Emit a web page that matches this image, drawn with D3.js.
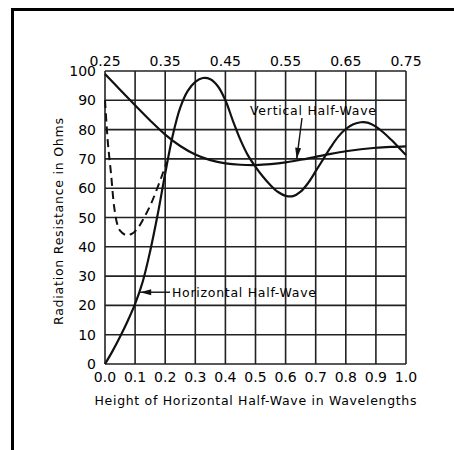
<!DOCTYPE html>
<html><head><meta charset="utf-8">
<script src="https://cdn.jsdelivr.net/npm/d3@7"></script>
<style>html,body{margin:0;padding:0;background:#fff;}svg{display:block;}</style>
</head><body>
<script>
const xTicks = [0.0,0.1,0.2,0.3,0.4,0.5,0.6,0.7,0.8,0.9,1.0];
const topTickPos = [0.0,0.2,0.4,0.6,0.8,1.0];
const topTickLabels = ["0.25","0.35","0.45","0.55","0.65","0.75"];
const yTicks = [0,10,20,30,40,50,60,70,80,90,100];

const horizX = [0,0.025,0.05,0.075,0.1,0.125,0.15,0.175,0.2,0.225,0.25,0.275,0.3,0.325,0.35,0.375,0.4,0.425,0.45,0.475,0.5,0.525,0.55,0.575,0.6,0.625,0.65,0.675,0.7,0.725,0.75,0.775,0.8,0.825,0.85,0.875,0.9,0.925,0.95,0.975,1.0];
const horizR = [0,4.4,9.3,14.6,20.5,28,38.5,51,65,78,87.5,93.2,96.3,97.6,97.2,94.8,90,83,76.5,71.2,67.3,63.9,61,58.7,57.4,57.3,58.8,61.8,65.8,69.9,74,77.6,80.2,81.8,82.5,82.3,81,79,76.6,74,71.3];

const vertX = [0,0.05,0.1,0.15,0.2,0.25,0.3,0.35,0.4,0.45,0.5,0.55,0.6,0.65,0.7,0.75,0.8,0.85,0.9,0.95,1.0];
const vertR = [99,93.6,88.3,83.1,78.3,74.4,71.5,69.6,68.5,68,67.9,68.2,68.8,69.7,70.7,71.7,72.6,73.3,73.8,74.1,74.3];

const dashX = [0,0.005,0.01,0.02,0.03,0.04,0.05,0.07,0.09,0.11,0.13,0.15,0.17,0.19,0.205];
const dashR = [90,82,75,65,54,48,45.5,44,44.5,46.5,50,54,59,64.5,69];

(function(){
const W = 454, H = 450;
const pL = 105, pR = 406, pT = 71, pB = 364;
const svg = d3.select("body").append("svg").attr("width", W).attr("height", H);
const font = "DejaVu Sans, sans-serif";

// outer frame
svg.append("path").attr("d", `M12.5,${H} L12.5,9.5 L${W},9.5`).attr("fill","none").attr("stroke","#000").attr("stroke-width",3);

const x = d3.scaleLinear().domain([0,1]).range([pL,pR]);
const y = d3.scaleLinear().domain([0,100]).range([pB,pT]);

// grid
const g = svg.append("g");
g.selectAll(".vg").data(xTicks).join("line")
  .attr("x1", d=>x(d)).attr("x2", d=>x(d)).attr("y1", pT).attr("y2", pB)
  .attr("stroke","#222").attr("stroke-width",1.6);
g.selectAll(".hg").data(yTicks).join("line")
  .attr("x1", pL).attr("x2", pR).attr("y1", d=>y(d)).attr("y2", d=>y(d))
  .attr("stroke","#222").attr("stroke-width",1.6);

// bottom tick labels
svg.selectAll(".bl").data(xTicks).join("text")
  .attr("x", d=>x(d)).attr("y", pB+18)
  .attr("text-anchor","middle").attr("font-family",font).attr("font-size",14)
  .text(d=>d3.format(".1f")(d));
// top tick labels
svg.selectAll(".tl").data(topTickPos).join("text")
  .attr("x", d=>x(d)).attr("y", pT-5)
  .attr("text-anchor","middle").attr("font-family",font).attr("font-size",14)
  .text((d,i)=>topTickLabels[i]);
// left tick labels
svg.selectAll(".ll").data(yTicks).join("text")
  .attr("x", pL-9).attr("y", d=>y(d)+5)
  .attr("text-anchor","end").attr("font-family",font).attr("font-size",14)
  .text(d=>d);

// axis titles
svg.append("text").attr("x", 255.5).attr("y", 404.5)
  .attr("text-anchor","middle").attr("font-family",font).attr("font-size",12.5)
  .attr("textLength",322).attr("lengthAdjust","spacing")
  .text("Height of Horizontal Half-Wave in Wavelengths");
svg.append("text").attr("transform","translate(63,221.5) rotate(-90)")
  .attr("text-anchor","middle").attr("font-family",font).attr("font-size",12.5)
  .attr("textLength",207).attr("lengthAdjust","spacing")
  .text("Radiation Resistance in Ohms");

// curves
const line = d3.line().x(d=>x(d[0])).y(d=>y(d[1])).curve(d3.curveCatmullRom.alpha(0.5));
svg.append("path").datum(horizX.map((v,i)=>[v,horizR[i]])).attr("d",line)
  .attr("fill","none").attr("stroke","#111").attr("stroke-width",2.2);
svg.append("path").datum(vertX.map((v,i)=>[v,vertR[i]])).attr("d",line)
  .attr("fill","none").attr("stroke","#111").attr("stroke-width",2.2);
svg.append("path").datum(dashX.map((v,i)=>[v,dashR[i]])).attr("d",line)
  .attr("fill","none").attr("stroke","#111").attr("stroke-width",2).attr("stroke-dasharray","8,5");

// annotations
svg.append("text").attr("x", 250).attr("y", 114.5).attr("font-family",font).attr("font-size",12.5)
  .attr("textLength",126).attr("lengthAdjust","spacing").text("Vertical Half-Wave");
svg.append("text").attr("x", 172).attr("y", 296.5).attr("font-family",font).attr("font-size",12.5)
  .attr("textLength",144).attr("lengthAdjust","spacing").text("Horizontal Half-Wave");

// arrows
function arrow(x1,y1,x2,y2){
  svg.append("line").attr("x1",x1).attr("y1",y1).attr("x2",x2).attr("y2",y2).attr("stroke","#111").attr("stroke-width",1.4);
  const a = Math.atan2(y2-y1,x2-x1), L=11, w=3;
  const bx = x2 - L*Math.cos(a), by = y2 - L*Math.sin(a);
  const px = -Math.sin(a)*w, py = Math.cos(a)*w;
  svg.append("path").attr("d",`M${x2},${y2} L${bx+px},${by+py} L${bx-px},${by-py} Z`).attr("fill","#111");
}
const vTipX = 0.637, hTipY = 24.5;
arrow(302, 118, x(vTipX), y(70));
arrow(170, y(hTipY), x(0.117), y(hTipY));
})();
</script>
</body></html>
